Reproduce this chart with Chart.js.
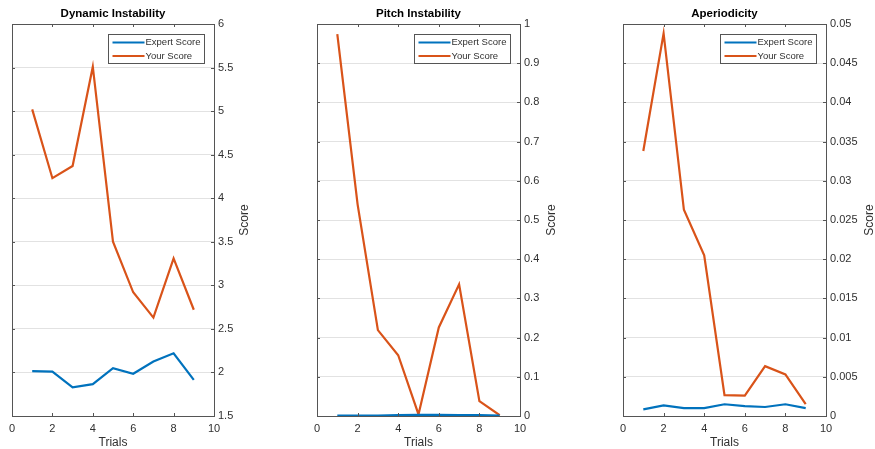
<!DOCTYPE html>
<html>
<head>
<meta charset="utf-8">
<script src="https://cdn.jsdelivr.net/npm/chart.js@4.4.1/dist/chart.umd.min.js"></script>
<style>
  body { margin: 0; background: #fff; width: 875px; height: 449px; position: relative; overflow: hidden; }
  canvas { position: absolute; top: 0; }
</style>
</head>
<body>
<canvas id="dynChart" width="300" height="449" style="left:0px"></canvas>
<canvas id="pitchChart" width="290" height="449" style="left:300px"></canvas>
<canvas id="aperChart" width="285" height="449" style="left:590px"></canvas>
<script>
// data
var trials = [1, 2, 3, 4, 5, 6, 7, 8, 9];
var seriesNames = ['Expert Score', 'Your Score'];

var dynExpert = [2.015, 2.01, 1.83, 1.865, 2.05, 1.985, 2.125, 2.22, 1.915];
var dynYour = [5.02, 4.23, 4.37, 5.51, 3.5, 2.92, 2.63, 3.31, 2.72];

var pitchExpert = [0.001, 0.001, 0.001, 0.002, 0.003, 0.003, 0.002, 0.002, 0.001];
var pitchYour = [0.974, 0.54, 0.219, 0.155, 0.004, 0.226, 0.336, 0.038, 0.002];

var aperExpert = [0.00085, 0.00135, 0.001, 0.001, 0.0015, 0.00127, 0.00115, 0.0015, 0.001];
var aperYour = [0.0338, 0.0488, 0.0263, 0.0205, 0.00267, 0.0026, 0.00636, 0.0053, 0.0015];

// axis ranges [min, max, step]
var xRange = [0, 10, 2];
var dynRange = [1.5, 6, 0.5];
var pitchRange = [0, 1, 0.1];
var aperRange = [0, 0.05, 0.005];

var FONT = '"Liberation Sans", Arial, Helvetica, sans-serif';
var TXT = '#303030';
var FRAME = '#555555';
var colors = ['#0072BD', '#D95319'];

// MATLAB-ish box: frame, inward ticks, legend, rotated "Score" label
var matlabBox = {
  id: 'matlabBox',
  afterDraw: function(chart) {
    var ctx = chart.ctx;
    var a = chart.chartArea;
    var xs = chart.scales.x, ys = chart.scales.y;
    ctx.save();
    ctx.strokeStyle = FRAME;
    ctx.lineWidth = 1;
    ctx.strokeRect(Math.round(a.left) + 0.5, Math.round(a.top) + 0.5, Math.round(a.right - a.left), Math.round(a.bottom - a.top));

    var tl = 3;
    ctx.beginPath();
    xs.ticks.forEach(function(t) {
      var px = Math.round(xs.getPixelForValue(t.value)) + 0.5;
      ctx.moveTo(px, a.top); ctx.lineTo(px, a.top + tl);
      ctx.moveTo(px, a.bottom); ctx.lineTo(px, a.bottom - tl);
    });
    ys.ticks.forEach(function(t) {
      var py = Math.round(ys.getPixelForValue(t.value)) + 0.5;
      ctx.moveTo(a.left, py); ctx.lineTo(a.left + tl, py);
      ctx.moveTo(a.right, py); ctx.lineTo(a.right - tl, py);
    });
    ctx.stroke();

    // legend
    var bw = 96, bh = 29;
    var bx = Math.round(a.right - 10 - bw) + 0.5, by = Math.round(a.top + 10) + 0.5;
    ctx.fillStyle = '#fff';
    ctx.fillRect(bx, by, bw, bh);
    ctx.strokeStyle = FRAME;
    ctx.strokeRect(bx, by, bw, bh);
    ctx.font = '9.5px ' + FONT;
    ctx.textBaseline = 'middle';
    ctx.textAlign = 'left';
    chart.data.datasets.forEach(function(ds, i) {
      var ly = by + 8 + i * 13.5;
      ctx.strokeStyle = ds.borderColor;
      ctx.lineWidth = 2;
      ctx.beginPath();
      ctx.moveTo(bx + 4, ly); ctx.lineTo(bx + 36, ly);
      ctx.stroke();
      ctx.fillStyle = TXT;
      ctx.fillText(ds.label, bx + 37, ly);
    });

    // y label
    var opts = chart.options.plugins.matlabBox;
    ctx.translate(a.right + opts.labelOffset, (a.top + a.bottom) / 2);
    ctx.rotate(-Math.PI / 2);
    ctx.textAlign = 'center';
    ctx.font = '12px ' + FONT;
    ctx.fillStyle = TXT;
    ctx.fillText('Score', 0, 0);
    ctx.restore();
  }
};

function toPoints(vals) {
  return trials.map(function(t, i) { return { x: t, y: vals[i] }; });
}

function makeChart(id, title, expert, your, range, leftPad, axisWidth, labelOffset) {
  var ctx = document.getElementById(id).getContext('2d');
  return new Chart(ctx, {
    type: 'line',
    data: {
      datasets: [
        { label: seriesNames[0], data: toPoints(expert), borderColor: colors[0], borderWidth: 2.2, pointRadius: 0, tension: 0 },
        { label: seriesNames[1], data: toPoints(your), borderColor: colors[1], borderWidth: 2.2, pointRadius: 0, tension: 0 }
      ]
    },
    options: {
      responsive: false,
      animation: false,
      devicePixelRatio: 1,
      layout: { padding: { left: leftPad, right: 0, top: 0, bottom: 0 } },
      plugins: {
        legend: { display: false },
        tooltip: { enabled: false },
        title: {
          display: true,
          text: title,
          fullSize: false,
          color: '#000',
          font: { family: FONT, size: 11.5, weight: 'bold', lineHeight: 1.2 },
          padding: { top: 7, bottom: 3.2 }
        },
        matlabBox: { labelOffset: labelOffset }
      },
      scales: {
        x: {
          type: 'linear',
          min: xRange[0], max: xRange[1],
          afterFit: function(s) { s.height = 33; },
          grid: { display: false, drawTicks: false },
          border: { display: false },
          ticks: { stepSize: xRange[2], padding: 6, color: TXT, font: { family: FONT, size: 11 } },
          title: { display: true, text: 'Trials', color: TXT, font: { family: FONT, size: 12 }, padding: { top: 0, bottom: -1 } }
        },
        y: {
          type: 'linear',
          position: 'right',
          min: range[0], max: range[1],
          afterFit: function(s) { s.width = axisWidth; },
          grid: { color: '#e2e2e2', drawTicks: false },
          border: { display: false },
          ticks: {
            stepSize: range[2], padding: 4, color: TXT, font: { family: FONT, size: 11 },
            callback: function(v) { return String(+v.toFixed(4)); }
          }
        }
      }
    },
    plugins: [matlabBox]
  });
}

var dynChart = makeChart('dynChart', 'Dynamic Instability', dynExpert, dynYour, dynRange, 12, 86, 31);
var pitchChart = makeChart('pitchChart', 'Pitch Instability', pitchExpert, pitchYour, pitchRange, 17, 70, 32);
var aperChart = makeChart('aperChart', 'Aperiodicity', aperExpert, aperYour, aperRange, 33, 49, 44);
</script>
</body>
</html>
